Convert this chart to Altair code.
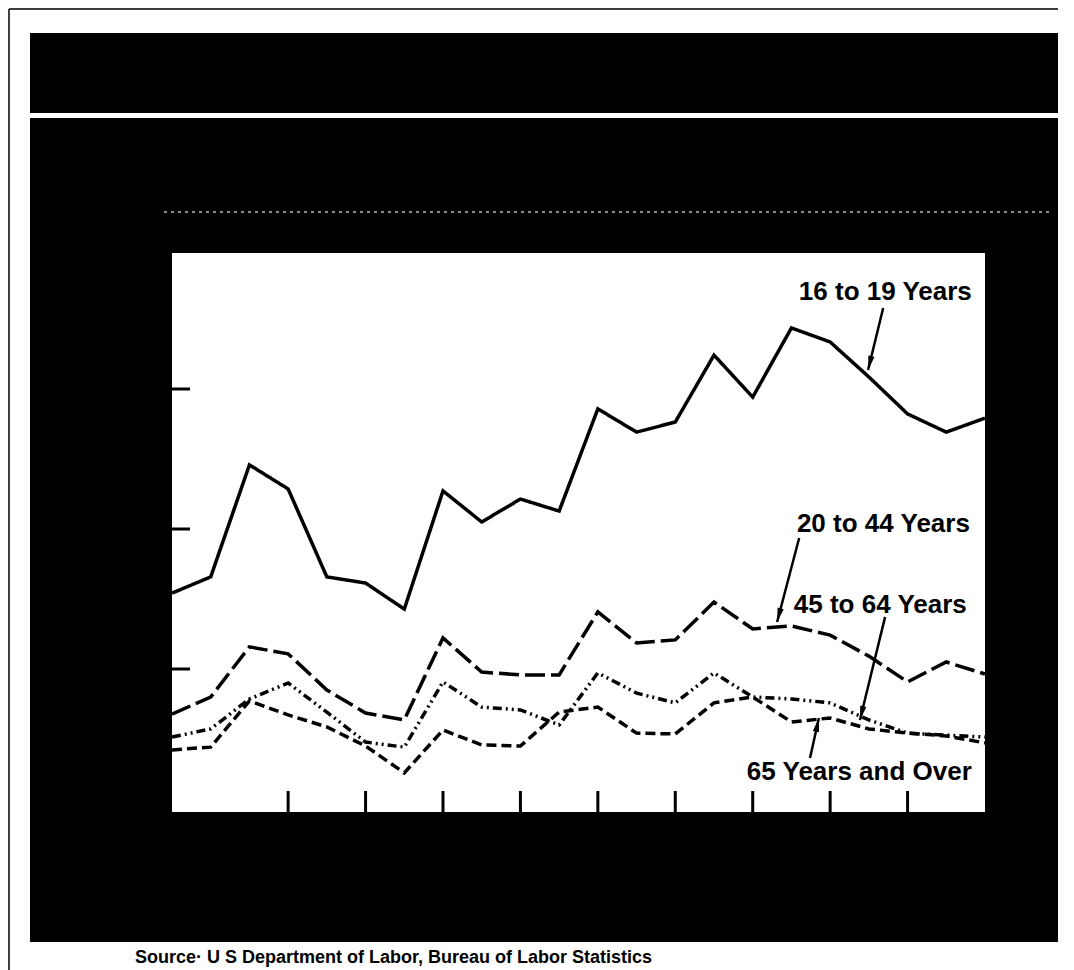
import math
import altair as alt
import pandas as pd

# ---- data ----
periods = list(range(22))
teen = [7.71, 8.29, 12.29, 11.43, 8.29, 8.07, 7.14, 11.36, 10.25, 11.07, 10.64,
        14.29, 13.46, 13.82, 16.21, 14.71, 17.18, 16.68, 15.43, 14.11, 13.46, 13.96]
adult = [3.39, 4.00, 5.79, 5.54, 4.25, 3.43, 3.18, 6.11, 4.89, 4.79, 4.79,
         7.04, 5.93, 6.04, 7.39, 6.43, 6.54, 6.21, 5.46, 4.54, 5.25, 4.82]
middle = [2.57, 2.86, 3.93, 4.50, 3.46, 2.39, 2.21, 4.54, 3.64, 3.54, 3.00,
          4.86, 4.14, 3.79, 4.86, 4.00, 3.93, 3.79, 3.18, 2.71, 2.64, 2.57]
older = [2.11, 2.21, 3.86, 3.36, 2.93, 2.25, 1.29, 2.82, 2.29, 2.25, 3.46,
         3.64, 2.71, 2.68, 3.79, 4.00, 3.11, 3.25, 2.86, 2.71, 2.61, 2.36]
series_names = ["16 to 19 Years", "20 to 44 Years", "45 to 64 Years", "65 Years and Over"]
x_ticks = [3, 5, 7, 9, 11, 13, 15, 17, 19]
y_ticks = [5, 10, 15]

label_x = [20.66, 20.61, 20.53, 20.66]
label_y = [18.18, 9.89, 7.00, 1.04]
arrow_x1 = [18.37, 16.20, 18.42, 16.48]
arrow_y1 = [17.89, 9.68, 6.86, 1.82]
arrow_x2 = [17.98, 15.63, 17.77, 16.71]
arrow_y2 = [15.68, 6.68, 3.18, 3.25]
source_text = "Source\u00b7 U S  Department of Labor, Bureau of Labor Statistics"

# ---- geometry ----
W, H = 813, 559
X_DOM = [0, 21]
Y_DOM = [-0.107, 19.857]
px_x = W / (X_DOM[1] - X_DOM[0])
px_y = H / (Y_DOM[1] - Y_DOM[0])

xs = alt.Scale(domain=X_DOM, nice=False, zero=False)
ys = alt.Scale(domain=Y_DOM, nice=False, zero=False)

rows = []
for name, vals in zip(series_names, [teen, adult, middle, older]):
    for p, v in zip(periods, vals):
        rows.append({"period": p, "value": v, "series": name})
df = pd.DataFrame(rows)

angles = []
for a, b, c, d in zip(arrow_x1, arrow_y1, arrow_x2, arrow_y2):
    dx = (c - a) * px_x
    dy = -(d - b) * px_y
    angles.append(math.degrees(math.atan2(dx, -dy)) % 360)
arrows = pd.DataFrame({"x1": arrow_x1, "y1": arrow_y1, "x2": arrow_x2,
                       "y2": arrow_y2, "ang": angles})
labels = pd.DataFrame({"x": label_x, "y": label_y, "t": series_names})
one = pd.DataFrame({"k": [0]})

# ---- decorative frame (scan background) ----
frame = alt.Chart(one).mark_rect(color="black").encode(
    x=alt.value(-142), x2=alt.value(886), y=alt.value(-220), y2=alt.value(689))
stripe = alt.Chart(one).mark_rect(color="white").encode(
    x=alt.value(-142), x2=alt.value(886), y=alt.value(-140), y2=alt.value(-135))
dots = alt.Chart(one).mark_rule(color="#bbbbbb", strokeWidth=1.5, strokeDash=[3, 4]).encode(
    x=alt.value(-8), x2=alt.value(880), y=alt.value(-41))
border_v = alt.Chart(one).mark_rule(color="black", strokeWidth=1.5).encode(
    x=alt.value(-163), y=alt.value(-244), y2=alt.value(717))
border_h = alt.Chart(one).mark_rule(color="black", strokeWidth=1.5).encode(
    x=alt.value(-163), x2=alt.value(886), y=alt.value(-244))
plotbg = alt.Chart(one).mark_rect(color="white").encode(
    x=alt.value(0), x2=alt.value(W), y=alt.value(0), y2=alt.value(H))

# ---- ticks ----
ytick = alt.Chart(pd.DataFrame({"v": y_ticks})).mark_rule(color="black", strokeWidth=3).encode(
    y=alt.Y("v:Q", scale=ys, axis=None), x=alt.value(0), x2=alt.value(18))
xtick = alt.Chart(pd.DataFrame({"t": x_ticks})).mark_rule(color="black", strokeWidth=3).encode(
    x=alt.X("t:Q", scale=xs, axis=None), y=alt.value(H - 21), y2=alt.value(H))

# ---- lines ----
lines = alt.Chart(df).mark_line(color="black", strokeWidth=3.5).encode(
    x=alt.X("period:Q", scale=xs, axis=None),
    y=alt.Y("value:Q", scale=ys, axis=None),
    strokeDash=alt.StrokeDash("series:N",
                              scale=alt.Scale(domain=series_names,
                                              range=[[1, 0], [20, 6], [9, 4, 2, 4, 2, 4], [10, 5]]),
                              legend=None),
    detail="series:N",
)

# ---- annotations ----
shafts = alt.Chart(arrows).mark_rule(color="black", strokeWidth=2.5).encode(
    x=alt.X("x1:Q", scale=xs, axis=None), y=alt.Y("y1:Q", scale=ys, axis=None),
    x2="x2:Q", y2="y2:Q")
heads = alt.Chart(arrows).mark_point(
    shape="M0,0L0.45,2L-0.45,2Z", filled=True, color="black", size=196, opacity=1
).encode(
    x=alt.X("x2:Q", scale=xs, axis=None), y=alt.Y("y2:Q", scale=ys, axis=None),
    angle=alt.Angle("ang:Q", scale=None))
texts = alt.Chart(labels).mark_text(
    align="right", baseline="alphabetic", font="Liberation Sans", fontWeight="bold",
    fontSize=26, color="black"
).encode(x=alt.X("x:Q", scale=xs, axis=None), y=alt.Y("y:Q", scale=ys, axis=None), text="t:N")
source = alt.Chart(one).mark_text(
    align="left", baseline="alphabetic", font="Liberation Sans", fontWeight="bold",
    fontSize=18, color="black"
).encode(x=alt.value(-37), y=alt.value(710), text=alt.value(source_text))

chart = alt.layer(
    frame, stripe, dots, border_v, border_h, plotbg,
    ytick, xtick, lines, shafts, heads, texts, source
).properties(
    width=W, height=H,
    autosize=alt.AutoSizeParams(type="none"),
    padding={"left": 164, "top": 245, "right": 75, "bottom": 166},
    background="white",
).configure_view(stroke=None)

chart.save("out.html", embed_options={"renderer": "svg", "actions": False})
